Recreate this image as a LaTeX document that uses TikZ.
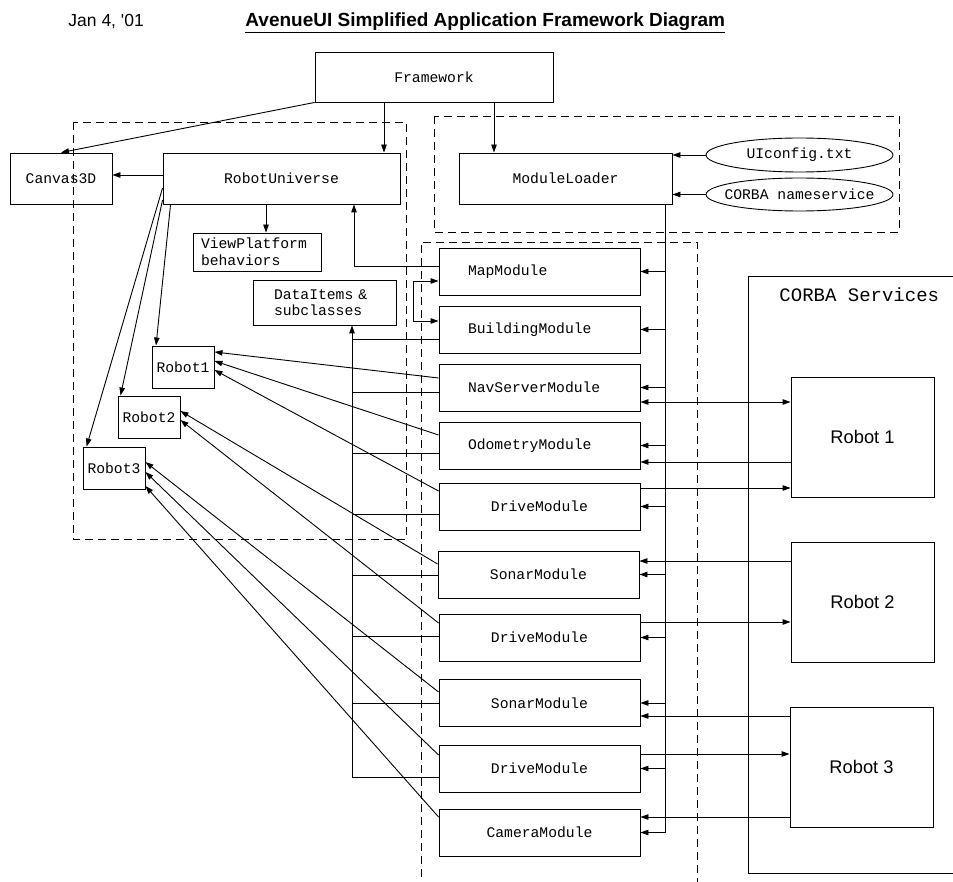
\documentclass[tikz,border=0pt]{standalone}
\usepackage{fontspec}
\setmonofont{Liberation Mono}
\newfontfamily\arialf{Liberation Sans}
\usetikzlibrary{arrows.meta,shapes.geometric,calc}
\newcommand\monof{\ttfamily\fontsize{14.7}{17}\selectfont}
\begin{document}
\begin{tikzpicture}[x=1pt,y=-1pt,line width=0.9pt,
  box/.style={draw,inner sep=0pt,font=\monof},
  modl/.style={box,minimum height=47pt,text width=143pt,inner xsep=29pt,align=left},
  modc/.style={box,minimum height=47pt,minimum width=201pt},
  rsmall/.style={box,minimum width=62pt,minimum height=42pt},
  rbig/.style={draw,inner sep=0pt,minimum width=143pt,minimum height=120pt,font=\arialf\fontsize{18.3}{22}\selectfont},
  ell/.style={draw,ellipse,inner ysep=0pt,inner xsep=-12pt,minimum width=187pt,minimum height=34pt,font=\monof},
  arr/.style={-{Triangle[length=8pt,width=5.5pt]}},
  darr/.style={{Triangle[length=8pt,width=5.5pt]}-{Triangle[length=8pt,width=5.5pt]}},
  grp/.style={dash pattern=on 8pt off 5pt}]
\useasboundingbox (0,0) rectangle (953,882);
\fill[white] (0,0) rectangle (953,882);

% header
\node[anchor=base west,inner sep=0pt,font=\arialf\fontsize{17.5}{20}\selectfont] (date) at (68,26.5) {Jan 4, '01};
\node[anchor=base west,inner sep=0pt,font=\arialf\bfseries\fontsize{19}{22}\selectfont] (title) at (245,26.5) {\underline{AvenueUI Simplified Application Framework Diagram}};

% dashed groups
\draw[grp] (73,122) rectangle (406,539);
\draw[grp] (434,116) rectangle (899,232);
\draw[grp] (421,890) -- (421,242) -- (697,242) -- (697,890);

% CORBA services container
\draw (960,276) -- (748,276) -- (748,873) -- (960,873);
\node[anchor=base west,inner sep=0pt,font=\ttfamily\fontsize{19}{22}\selectfont] (cs) at (779,302) {CORBA Services};

% nodes
\node[box,minimum width=238pt,minimum height=50pt] (fw) at (434,77) {Framework};
\node[box,minimum width=102pt,minimum height=51pt] (c3d) at (61,178.5) {Canvas3D};
\node[box,minimum width=237pt,minimum height=51pt] (ru) at (281.5,178.5) {RobotUniverse};
\node[box,minimum height=38pt,text width=112pt,inner xsep=8pt,align=left] (vp) at (257,252) {ViewPlatform\\behaviors};
\node[box,minimum height=45pt,text width=101pt,inner xsep=21pt,align=left,font=\ttfamily\fontsize{14.7}{15.7}\selectfont] (di) at (324.5,302.5) {DataItems \&\\subclasses};
\node[rsmall] (r1) at (183,367) {Robot1};
\node[rsmall] (r2) at (149,417) {Robot2};
\node[rsmall] (r3) at (114,468) {Robot3};
\node[box,minimum width=213pt,minimum height=51pt] (ml) at (565.5,178.5) {ModuleLoader};
\node[ell] (uic) at (799.5,155) {UIconfig.txt};
\node[ell,minimum height=33pt] (cns) at (799.5,194.5) {CORBA nameservice};

\node[modl] (map) at (539.5,271.5) {MapModule};
\node[modl] (bm)  at (539.5,329.5) {BuildingModule};
\node[modl] (nav) at (539.5,387.5) {NavServerModule};
\node[modl] (odo) at (539.5,445.5) {OdometryModule};
\node[modc] (d1)  at (539.5,506.5) {DriveModule};
\node[modc] (s1)  at (538.5,574.5) {SonarModule};
\node[modc] (d2)  at (539.5,637.5) {DriveModule};
\node[modc] (s2)  at (539.5,703) {SonarModule};
\node[modc] (d3)  at (539.5,768.5) {DriveModule};
\node[modc] (cam) at (539.5,832.5) {CameraModule};

\node[rbig] (R1) at (862.5,437) {Robot 1};
\node[rbig] (R2) at (862.5,602) {Robot 2};
\node[rbig] (R3) at (861.5,767) {Robot 3};

% helper x positions
\coordinate (xfr) at (384,0);
\coordinate (xfm) at (494,0);
\coordinate (xvp) at (266,0);
\coordinate (xa) at (354,0);
\coordinate (xb) at (352,0);
\coordinate (xbr) at (413,0);
\coordinate (xr) at (665,0);

% framework connectors
\draw[arr] (fw.south -| xfr) -- (ru.north -| xfr);
\draw[arr] (fw.south -| xfm) -- (ml.north -| xfm);
\draw[arr] (fw.south west) -- (c3d.north);
\draw[arr] ($(ru.west)+(0,-3.5)$) -- ($(c3d.east)+(0,-3.5)$);
\draw[arr] (ru.south -| xvp) -- (vp.north -| xvp);

% universe to robots
\draw[arr] ($(ru.south west)+(8,0)$) -- ($(r1.north)+(-27,0)$);
\draw[arr] ($(ru.west)+(0,21.5)$) -- ($(r2.north west)+(3,0)$);
\draw[arr] ($(ru.west)+(0,9.5)$) -- ($(r3.north west)+(4,0)$);

% config inputs
\draw[arr] (uic.west) -- (uic.west -| ml.east);
\draw[arr] (cns.west) -- (cns.west -| ml.east);

% MapModule to RobotUniverse
\coordinate (mapL) at ($(map.west)+(0,-5.5)$);
\draw[arr] (mapL) -| (ru.south -| xa);

% Map/Building bracket
\coordinate (mA) at ($(map.west)+(0,9.5)$);
\coordinate (bA) at ($(bm.west)+(0,-8.5)$);
\draw[darr] (mA) -- (mA -| xbr) -- (bA -| xbr) -- (bA);

% DataItems bus
\coordinate (d3L) at ($(d3.west)+(0,8.5)$);
\draw[arr] (d3L) -| (di.south -| xb);
\coordinate (bmL) at ($(bm.west)+(0,9.5)$);  \draw (bmL) -- (bmL -| xb);
\coordinate (navL) at ($(nav.west)+(0,4.5)$); \draw (navL) -- (navL -| xb);
\coordinate (odoL) at ($(odo.west)+(0,7.5)$); \draw (odoL) -- (odoL -| xb);
\coordinate (d1L) at ($(d1.west)+(0,7.5)$);   \draw (d1L) -- (d1L -| xb);
\coordinate (s1L) at ($(s1.west)+(0,0.5)$);   \draw (s1L) -- (s1L -| xb);
\coordinate (d2L) at ($(d2.west)+(0,-1.5)$);  \draw (d2L) -- (d2L -| xb);
\coordinate (s2L) at ($(s2.west)+(0,0)$);     \draw (s2L) -- (s2L -| xb);

% modules to robot objects
\draw[arr] ($(nav.west)+(0,-9.5)$) -- ($(r1.east)+(0,-15)$);
\draw[arr] ($(odo.west)+(0,-10.5)$) -- ($(r1.east)+(0,-6)$);
\draw[arr] ($(d1.west)+(0,-15.5)$) -- ($(r1.east)+(0,3)$);
\draw[arr] ($(s1.west)+(0,-10.5)$) -- ($(r2.east)+(0,-6)$);
\draw[arr] ($(d2.west)+(0,-14.5)$) -- ($(r2.east)+(0,3)$);
\draw[arr] ($(s2.west)+(0,-11)$) -- ($(r3.east)+(0,-6)$);
\draw[arr] ($(d3.west)+(0,-13.5)$) -- ($(r3.east)+(0,4)$);
\draw[arr] ($(cam.west)+(0,-15.5)$) -- ($(r3.east)+(0,18)$);

% ModuleLoader bus
\draw (ml.south -| xr) -- (xr |- cam.east);
\foreach \m in {map,bm,nav,odo,d1,s1,d2,s2,d3,cam}{
  \draw[arr] (xr |- \m.east) -- (\m.east);
}

% robots to modules
\coordinate (navR) at ($(nav.east)+(0,14.5)$);
\draw[darr] (navR) -- (navR -| R1.west);
\coordinate (odoR) at ($(odo.east)+(0,16.5)$);
\draw[arr] (odoR -| R1.west) -- (odoR);
\coordinate (d1R) at ($(d1.east)+(0,-18.5)$);
\draw[arr] (d1R) -- (d1R -| R1.west);
\coordinate (s1R) at ($(s1.east)+(0,-13.5)$);
\draw[arr] (s1R -| R2.west) -- (s1R);
\coordinate (d2R) at ($(d2.east)+(0,-15.5)$);
\draw[arr] (d2R) -- (d2R -| R2.west);
\coordinate (s2R) at ($(s2.east)+(0,13)$);
\draw[arr] (s2R -| R3.west) -- (s2R);
\coordinate (d3R) at ($(d3.east)+(0,-14.5)$);
\draw[arr] (d3R) -- (d3R -| R3.west);
\coordinate (camR) at ($(cam.east)+(0,-15.5)$);
\draw[arr] (camR -| R3.west) -- (camR);
\end{tikzpicture}
\end{document}
